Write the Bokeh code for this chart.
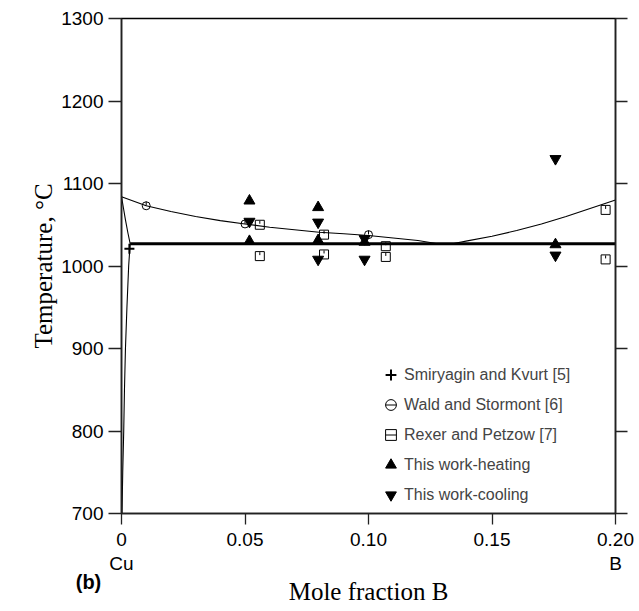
import numpy as np
from bokeh.plotting import figure
from bokeh.models import Range1d, LinearAxis, FixedTicker, Legend, LegendItem, Label
from bokeh.embed import file_html
from bokeh.resources import INLINE

# ---------------- data ----------------
# liquidus, Cu-rich branch
liq_cu_x = [0.0, 0.01, 0.02, 0.03, 0.04, 0.05, 0.06, 0.07, 0.08, 0.09, 0.10, 0.11, 0.12, 0.128]
liq_cu_T = [1084, 1073, 1066, 1060, 1055, 1051, 1047, 1044, 1041, 1039, 1037, 1034, 1031, 1027]
# liquidus, B-rich branch
liq_b_x = [0.134, 0.14, 0.15, 0.16, 0.17, 0.18, 0.19, 0.20]
liq_b_T = [1027, 1030.5, 1036, 1043, 1051, 1060, 1070, 1080]
# solidus + solvus of (Cu)
cu_x = [0.0, 0.0008, 0.0016, 0.0026, 0.0035, 0.0029, 0.0022, 0.0016, 0.0012, 0.0009, 0.0005, 0.0002]
cu_T = [1084, 1070, 1056, 1040, 1027, 1000, 950, 900, 850, 800, 750, 700]
# eutectic
eut_x = [0.0035, 0.20]
eut_T = [1027, 1027]

smir_x = [0.0032]
smir_T = [1021]
wald_x = [0.01, 0.05, 0.10]
wald_T = [1073, 1051, 1038]
rexer_x = [0.056, 0.056, 0.082, 0.082, 0.107, 0.107, 0.196, 0.196]
rexer_T = [1050, 1012, 1038, 1014, 1024, 1011, 1068, 1008]
heat_x = [0.0518, 0.0518, 0.0796, 0.0796, 0.0984, 0.1757]
heat_T = [1079, 1030, 1071, 1031, 1029, 1026]
cool_x = [0.0518, 0.0796, 0.0796, 0.0984, 0.0984, 0.1757, 0.1757]
cool_T = [1054, 1053, 1008, 1033, 1008, 1130, 1013]

x_ticks = [0.0, 0.05, 0.10, 0.15, 0.20]
x_tick_labels = ["0", "0.05", "0.10", "0.15", "0.20"]
end_ticks = [0.0, 0.20]
end_labels = ["Cu", "B"]
y_ticks = [700, 800, 900, 1000, 1100, 1200, 1300]

legend_labels = ["Smiryagin and Kvurt [5]", "Wald and Stormont [6]", "Rexer and Petzow [7]",
                 "This work-heating", "This work-cooling"]

SANS = "Liberation Sans"
SERIF = "Liberation Serif"

p = figure(width=639, height=611, output_backend="svg", toolbar_location=None,
           x_range=Range1d(0, 0.2), y_range=Range1d(700, 1300),
           x_axis_location=None, y_axis_location=None,
           min_border_left=121, min_border_right=24, min_border_top=18, min_border_bottom=98)
p.grid.grid_line_color = None
p.outline_line_color = "black"
p.outline_line_width = 1.5
p.background_fill_color = "white"

# curves
p.line(liq_cu_x, liq_cu_T, line_color="black", line_width=1.1)
p.line(liq_b_x, liq_b_T, line_color="black", line_width=1.1)
p.line(cu_x, cu_T, line_color="black", line_width=1.1)
p.line(eut_x, eut_T, line_color="black", line_width=3.2)

# markers
r_smir = p.scatter(smir_x, smir_T, marker="cross", size=10, line_color="black", line_width=2)
r_wald = p.scatter(wald_x, wald_T, marker="circle", size=8, fill_color=None,
                   line_color="black", line_width=1)
tick_dy = 2.6
r_wald_t = p.scatter(wald_x, [t + tick_dy for t in wald_T], marker="dash", size=4,
                     angle=np.pi / 2, line_color="black", line_width=1)
r_rex = p.scatter(rexer_x, rexer_T, marker="square", size=9, fill_color=None,
                  line_color="black", line_width=1)
r_rex_t = p.scatter(rexer_x, [t + 3.0 for t in rexer_T], marker="dash", size=3,
                    angle=np.pi / 2, line_color="black", line_width=1)
r_heat = p.scatter(heat_x, heat_T, marker="triangle", size=11, fill_color="black", line_color="black")
r_cool = p.scatter(cool_x, cool_T, marker="inverted_triangle", size=11, fill_color="black",
                   line_color="black")

# axes
def style_axis(ax):
    ax.axis_line_color = "#222222"
    ax.axis_line_width = 1.5
    ax.major_tick_line_color = "#222222"
    ax.major_tick_line_width = 1.3
    ax.minor_tick_line_color = None
    ax.major_tick_in = 0
    ax.major_label_text_font = SANS
    ax.major_label_text_font_size = "19px"
    ax.major_label_text_color = "black"
    ax.axis_label_text_font = SERIF
    ax.axis_label_text_font_size = "25px"
    ax.axis_label_text_font_style = "normal"
    ax.axis_label_text_color = "black"

yax = LinearAxis(ticker=FixedTicker(ticks=y_ticks), axis_label="Temperature, °C")
style_axis(yax)
yax.major_tick_out = 13
yax.major_label_standoff = 5
yax.axis_label_standoff = 1
p.add_layout(yax, "left")

rax = LinearAxis(ticker=FixedTicker(ticks=y_ticks),
                 major_label_overrides={t: "" for t in y_ticks})
style_axis(rax)
rax.major_tick_out = 12
rax.major_label_standoff = 0
p.add_layout(rax, "right")

xax = LinearAxis(ticker=FixedTicker(ticks=x_ticks),
                 major_label_overrides={t: s for t, s in zip(x_ticks, x_tick_labels)})
style_axis(xax)
xax.major_tick_out = 11
xax.major_label_standoff = 8
p.add_layout(xax, "below")

xax2 = LinearAxis(ticker=FixedTicker(ticks=end_ticks), axis_label="Mole fraction B",
                  major_label_overrides={t: s for t, s in zip(end_ticks, end_labels)})
style_axis(xax2)
xax2.axis_line_color = None
xax2.major_tick_line_color = None
xax2.major_tick_out = 0
xax2.major_label_standoff = 4
xax2.axis_label_standoff = 1
p.add_layout(xax2, "below")

legend = Legend(items=[
    LegendItem(label=legend_labels[0], renderers=[r_smir]),
    LegendItem(label=legend_labels[1], renderers=[r_wald, r_wald_t]),
    LegendItem(label=legend_labels[2], renderers=[r_rex, r_rex_t]),
    LegendItem(label=legend_labels[3], renderers=[r_heat]),
    LegendItem(label=legend_labels[4], renderers=[r_cool]),
], location=(256, 5), label_text_font=SANS, label_text_font_size="16px",
    glyph_width=27, glyph_height=27, label_height=20, spacing=3, padding=0, margin=0,
    border_line_color=None, background_fill_alpha=0, label_standoff=0)
p.add_layout(legend)

p.add_layout(Label(x=88, y=581, x_units="canvas", y_units="canvas", text="(b)",
                   text_font=SANS, text_font_size="20px",
                   text_font_style="bold", text_align="center", text_baseline="middle",
                   text_color="black"), "left")

open("out.html", "w").write(file_html(p, INLINE))
